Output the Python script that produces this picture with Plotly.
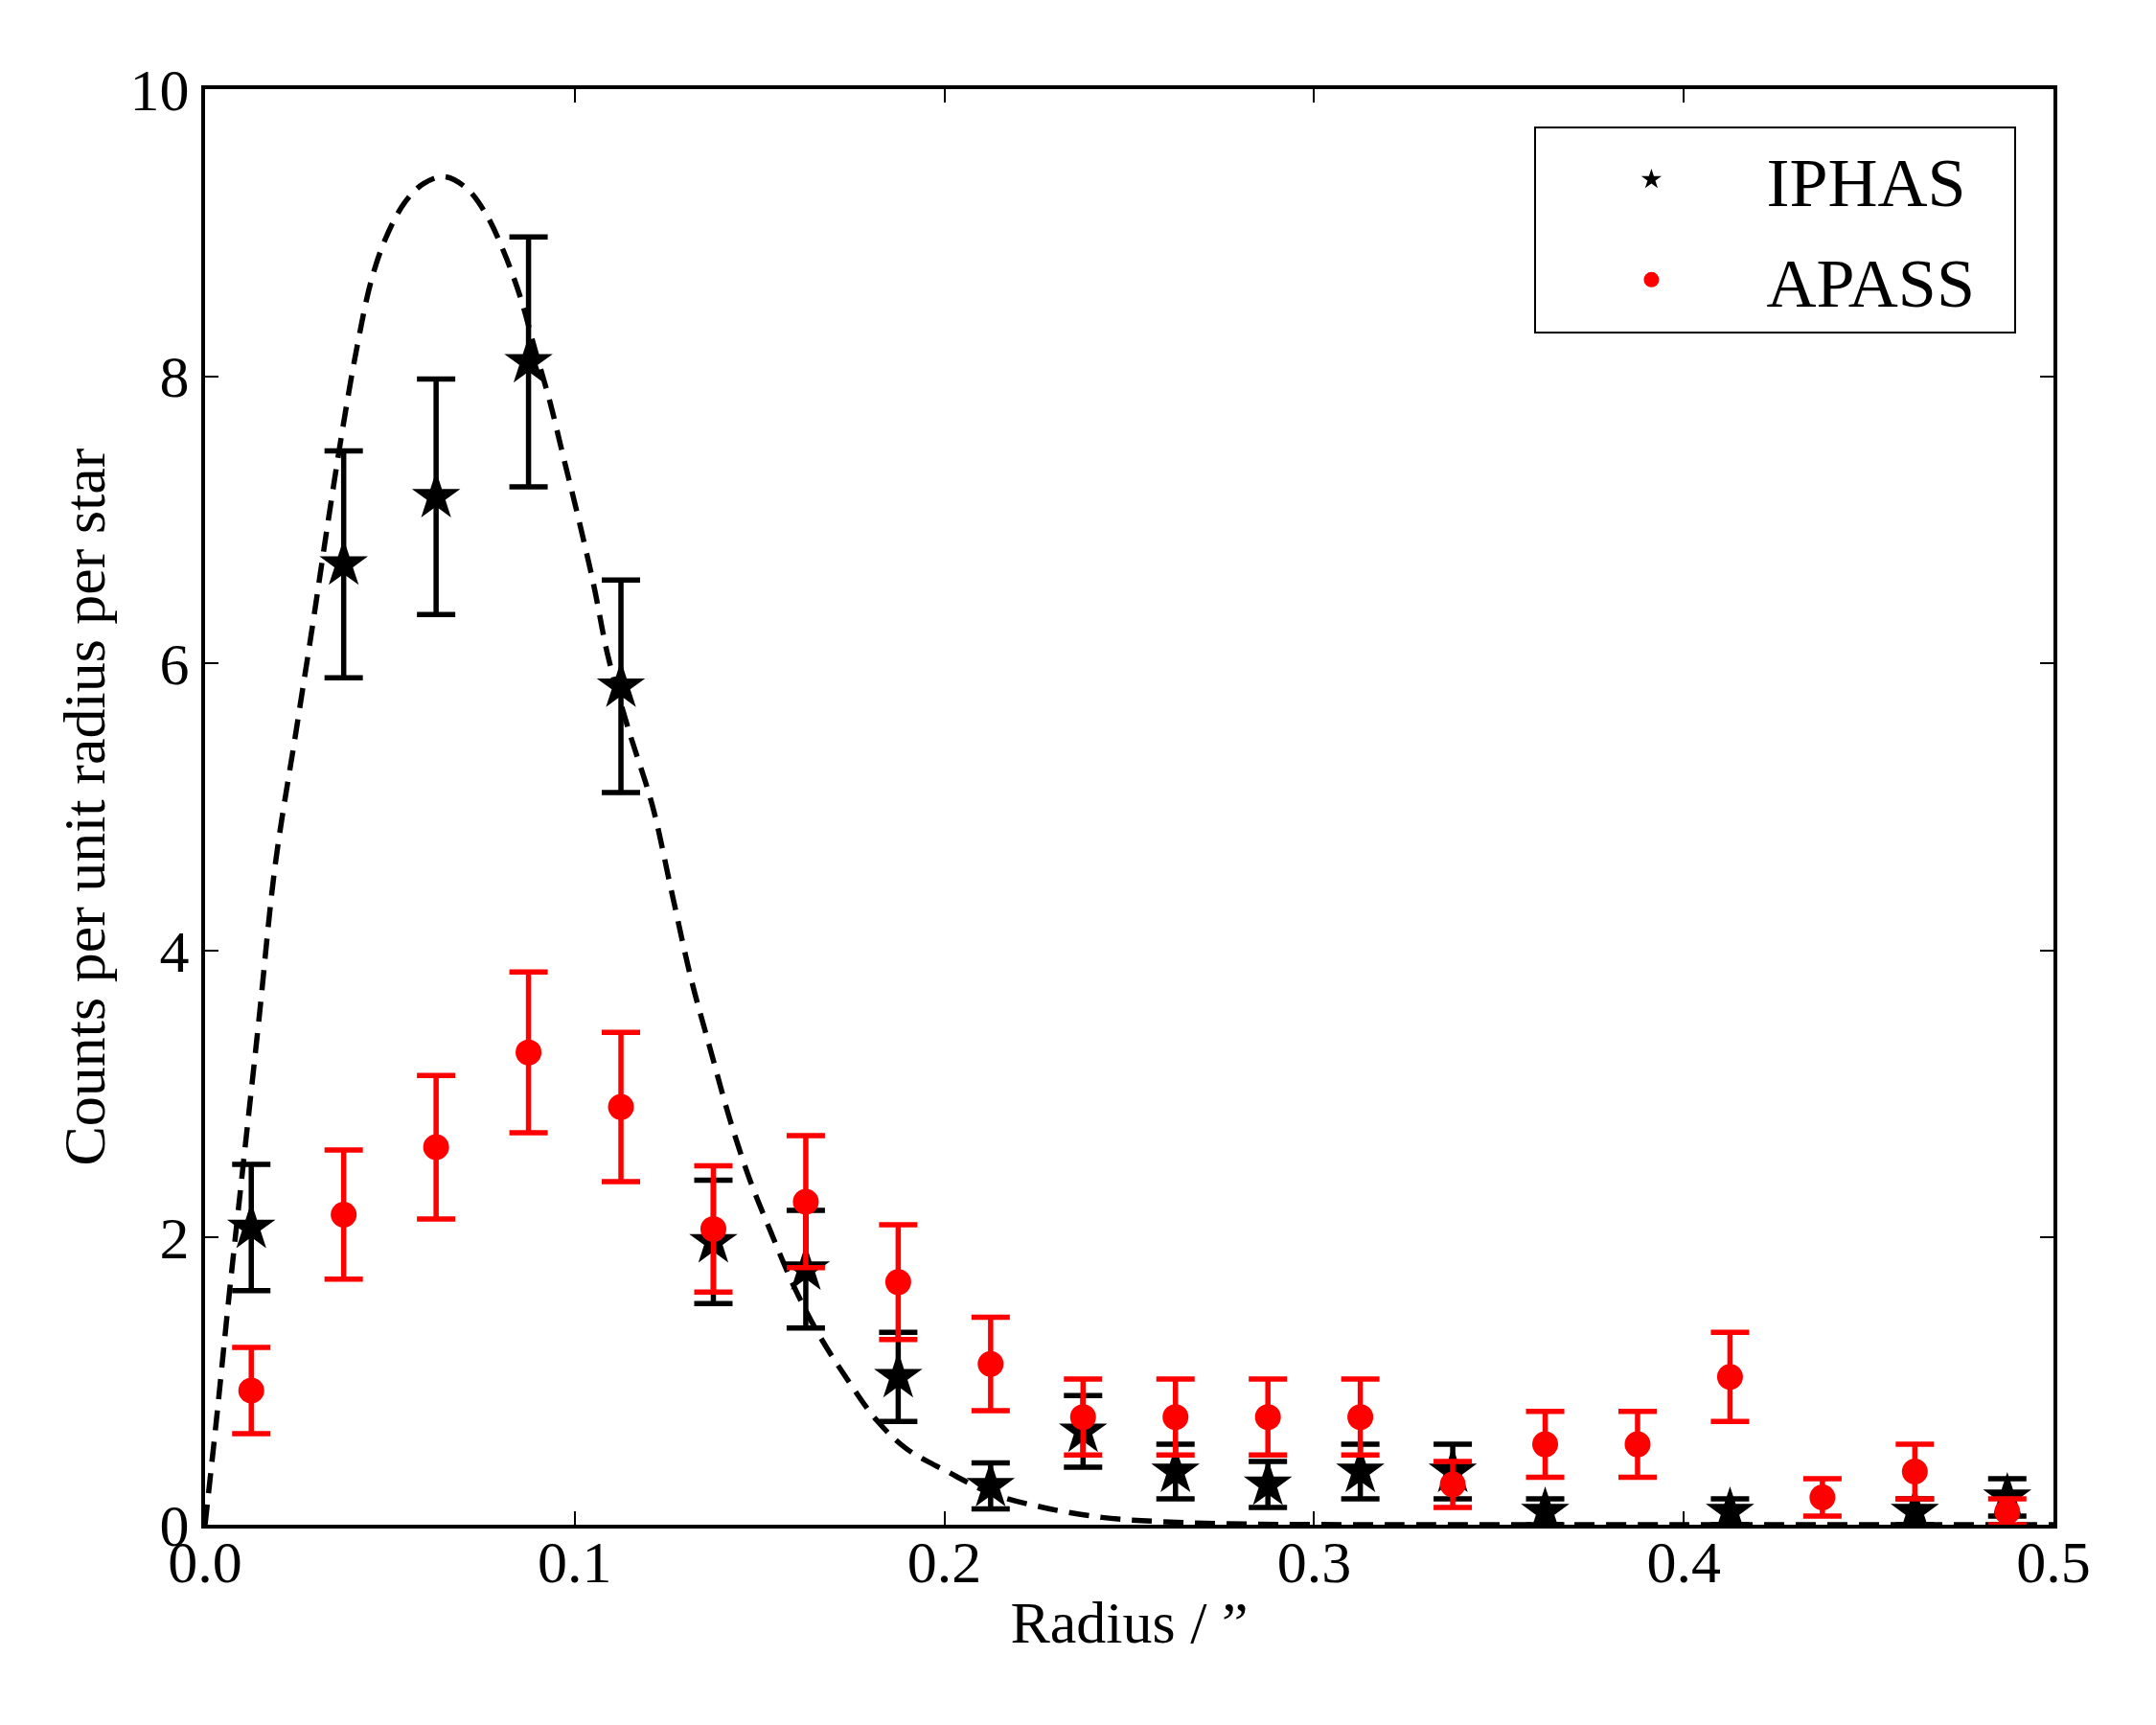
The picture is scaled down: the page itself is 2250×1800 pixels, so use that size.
import plotly.graph_objects as go

# ---- data ----
radius_bins = [0.0125, 0.0375, 0.0625, 0.0875, 0.1125, 0.1375, 0.1625, 0.1875, 0.2125, 0.2375,
               0.2625, 0.2875, 0.3125, 0.3375, 0.3625, 0.3875, 0.4125, 0.4375, 0.4625, 0.4875]

iphas_counts = [2.07, 6.69, 7.16, 8.10, 5.84, 1.97, 1.78, 1.03, 0.27, 0.65,
                0.37, 0.28, 0.37, 0.37, 0.09, None, 0.09, None, 0.09, 0.19]
iphas_err = [0.44, 0.79, 0.82, 0.87, 0.74, 0.43, 0.41, 0.31, 0.16, 0.25,
             0.19, 0.16, 0.19, 0.19, 0.09, 0.0, 0.09, 0.0, 0.09, 0.13]

apass_counts = [0.935, 2.16, 2.63, 3.29, 2.91, 2.06, 2.25, 1.69, 1.12, 0.75,
                0.75, 0.75, 0.75, 0.28, 0.56, 0.56, 1.03, 0.19, 0.37, 0.09]
apass_err = [0.30, 0.45, 0.50, 0.56, 0.52, 0.44, 0.46, 0.40, 0.325, 0.265,
             0.265, 0.265, 0.265, 0.16, 0.23, 0.23, 0.31, 0.13, 0.19, 0.09]

model_r = [0.0, 0.0032, 0.0066, 0.0105, 0.0145, 0.019, 0.0247, 0.029, 0.033, 0.037,
           0.041, 0.045, 0.049, 0.054, 0.059, 0.0647, 0.0707, 0.076, 0.0806, 0.0853,
           0.0892, 0.0932, 0.0971, 0.1011, 0.1051, 0.109, 0.1143, 0.121, 0.1262, 0.1315,
           0.1368, 0.142, 0.1474, 0.1527, 0.1593, 0.1659, 0.1738, 0.1818, 0.1897, 0.201,
           0.2125, 0.2264, 0.2426, 0.2588, 0.282, 0.32, 0.4, 0.5]
model_counts = [0.0, 0.76, 1.62, 2.55, 3.5, 4.6, 5.54, 6.25, 6.94, 7.60,
                8.19, 8.67, 8.97, 9.21, 9.34, 9.39, 9.31, 9.13, 8.88, 8.55,
                8.19, 7.83, 7.42, 7.0, 6.55, 6.05, 5.56, 5.01, 4.41, 3.80,
                3.3, 2.82, 2.4, 2.06, 1.66, 1.33, 1.01, 0.724, 0.53, 0.367,
                0.22, 0.122, 0.051, 0.021, 0.005, 0.0, 0.0, 0.0]

x_ticks = [0.0, 0.1, 0.2, 0.3, 0.4, 0.5]
x_tick_labels = ["0.0", "0.1", "0.2", "0.3", "0.4", "0.5"]
y_ticks = [0, 2, 4, 6, 8, 10]
y_tick_labels = ["0", "2", "4", "6", "8", "10"]

FONT = "Liberation Serif"
NBSP = "\u00a0"

fig = go.Figure()

fig.add_trace(go.Scatter(
    x=model_r, y=model_counts, mode="lines", line_shape="spline",
    line=dict(color="black", width=5.5, dash="21px,12px"),
    showlegend=False, hoverinfo="skip",
))

fig.add_trace(go.Scatter(
    x=radius_bins, y=iphas_counts, mode="markers", name="IPHAS" + NBSP * 2,
    legendgroup="iphas",
    marker=dict(symbol="star", size=38, color="black"),
    error_y=dict(type="data", array=iphas_err, visible=True, color="black",
                 thickness=5.5, width=20),
))

fig.add_trace(go.Scatter(
    x=radius_bins, y=apass_counts, mode="markers", name="APASS" + NBSP * 2,
    legendgroup="apass",
    marker=dict(symbol="circle", size=27, color="#ff0000"),
    error_y=dict(type="data", array=apass_err, visible=True, color="#ff0000",
                 thickness=5.5, width=20),
))

axis_common = dict(
    showgrid=False, zeroline=False, showline=True, linecolor="black", linewidth=4,
    mirror="ticks", ticks="inside", ticklen=14, tickwidth=2, tickcolor="black",
    tickfont=dict(family=FONT, size=62, color="black"),
)

fig.update_xaxes(
    range=[0, 0.5], tickvals=x_ticks, ticktext=x_tick_labels, ticklabelstandoff=-18,
    title=dict(text="Radius / \u201d", font=dict(family=FONT, size=62, color="black"), standoff=8),
    **axis_common,
)
fig.update_yaxes(
    range=[0, 10], tickvals=y_ticks, ticktext=y_tick_labels,
    title=dict(text="Counts per unit radius per star", font=dict(family=FONT, size=62, color="black"), standoff=7),
    **axis_common,
)

fig.update_layout(
    width=2250, height=1800,
    margin=dict(l=214, r=107, t=93, b=209),
    paper_bgcolor="white", plot_bgcolor="white",
    font=dict(family=FONT, color="black"),
    legend=dict(
        x=0.98, y=0.974, xanchor="right", yanchor="top",
        bgcolor="white", bordercolor="black", borderwidth=2,
        font=dict(family=FONT, size=72, color="black"),
        itemwidth=230, traceorder="grouped", tracegroupgap=8,
    ),
)

fig.write_html("out.html")
